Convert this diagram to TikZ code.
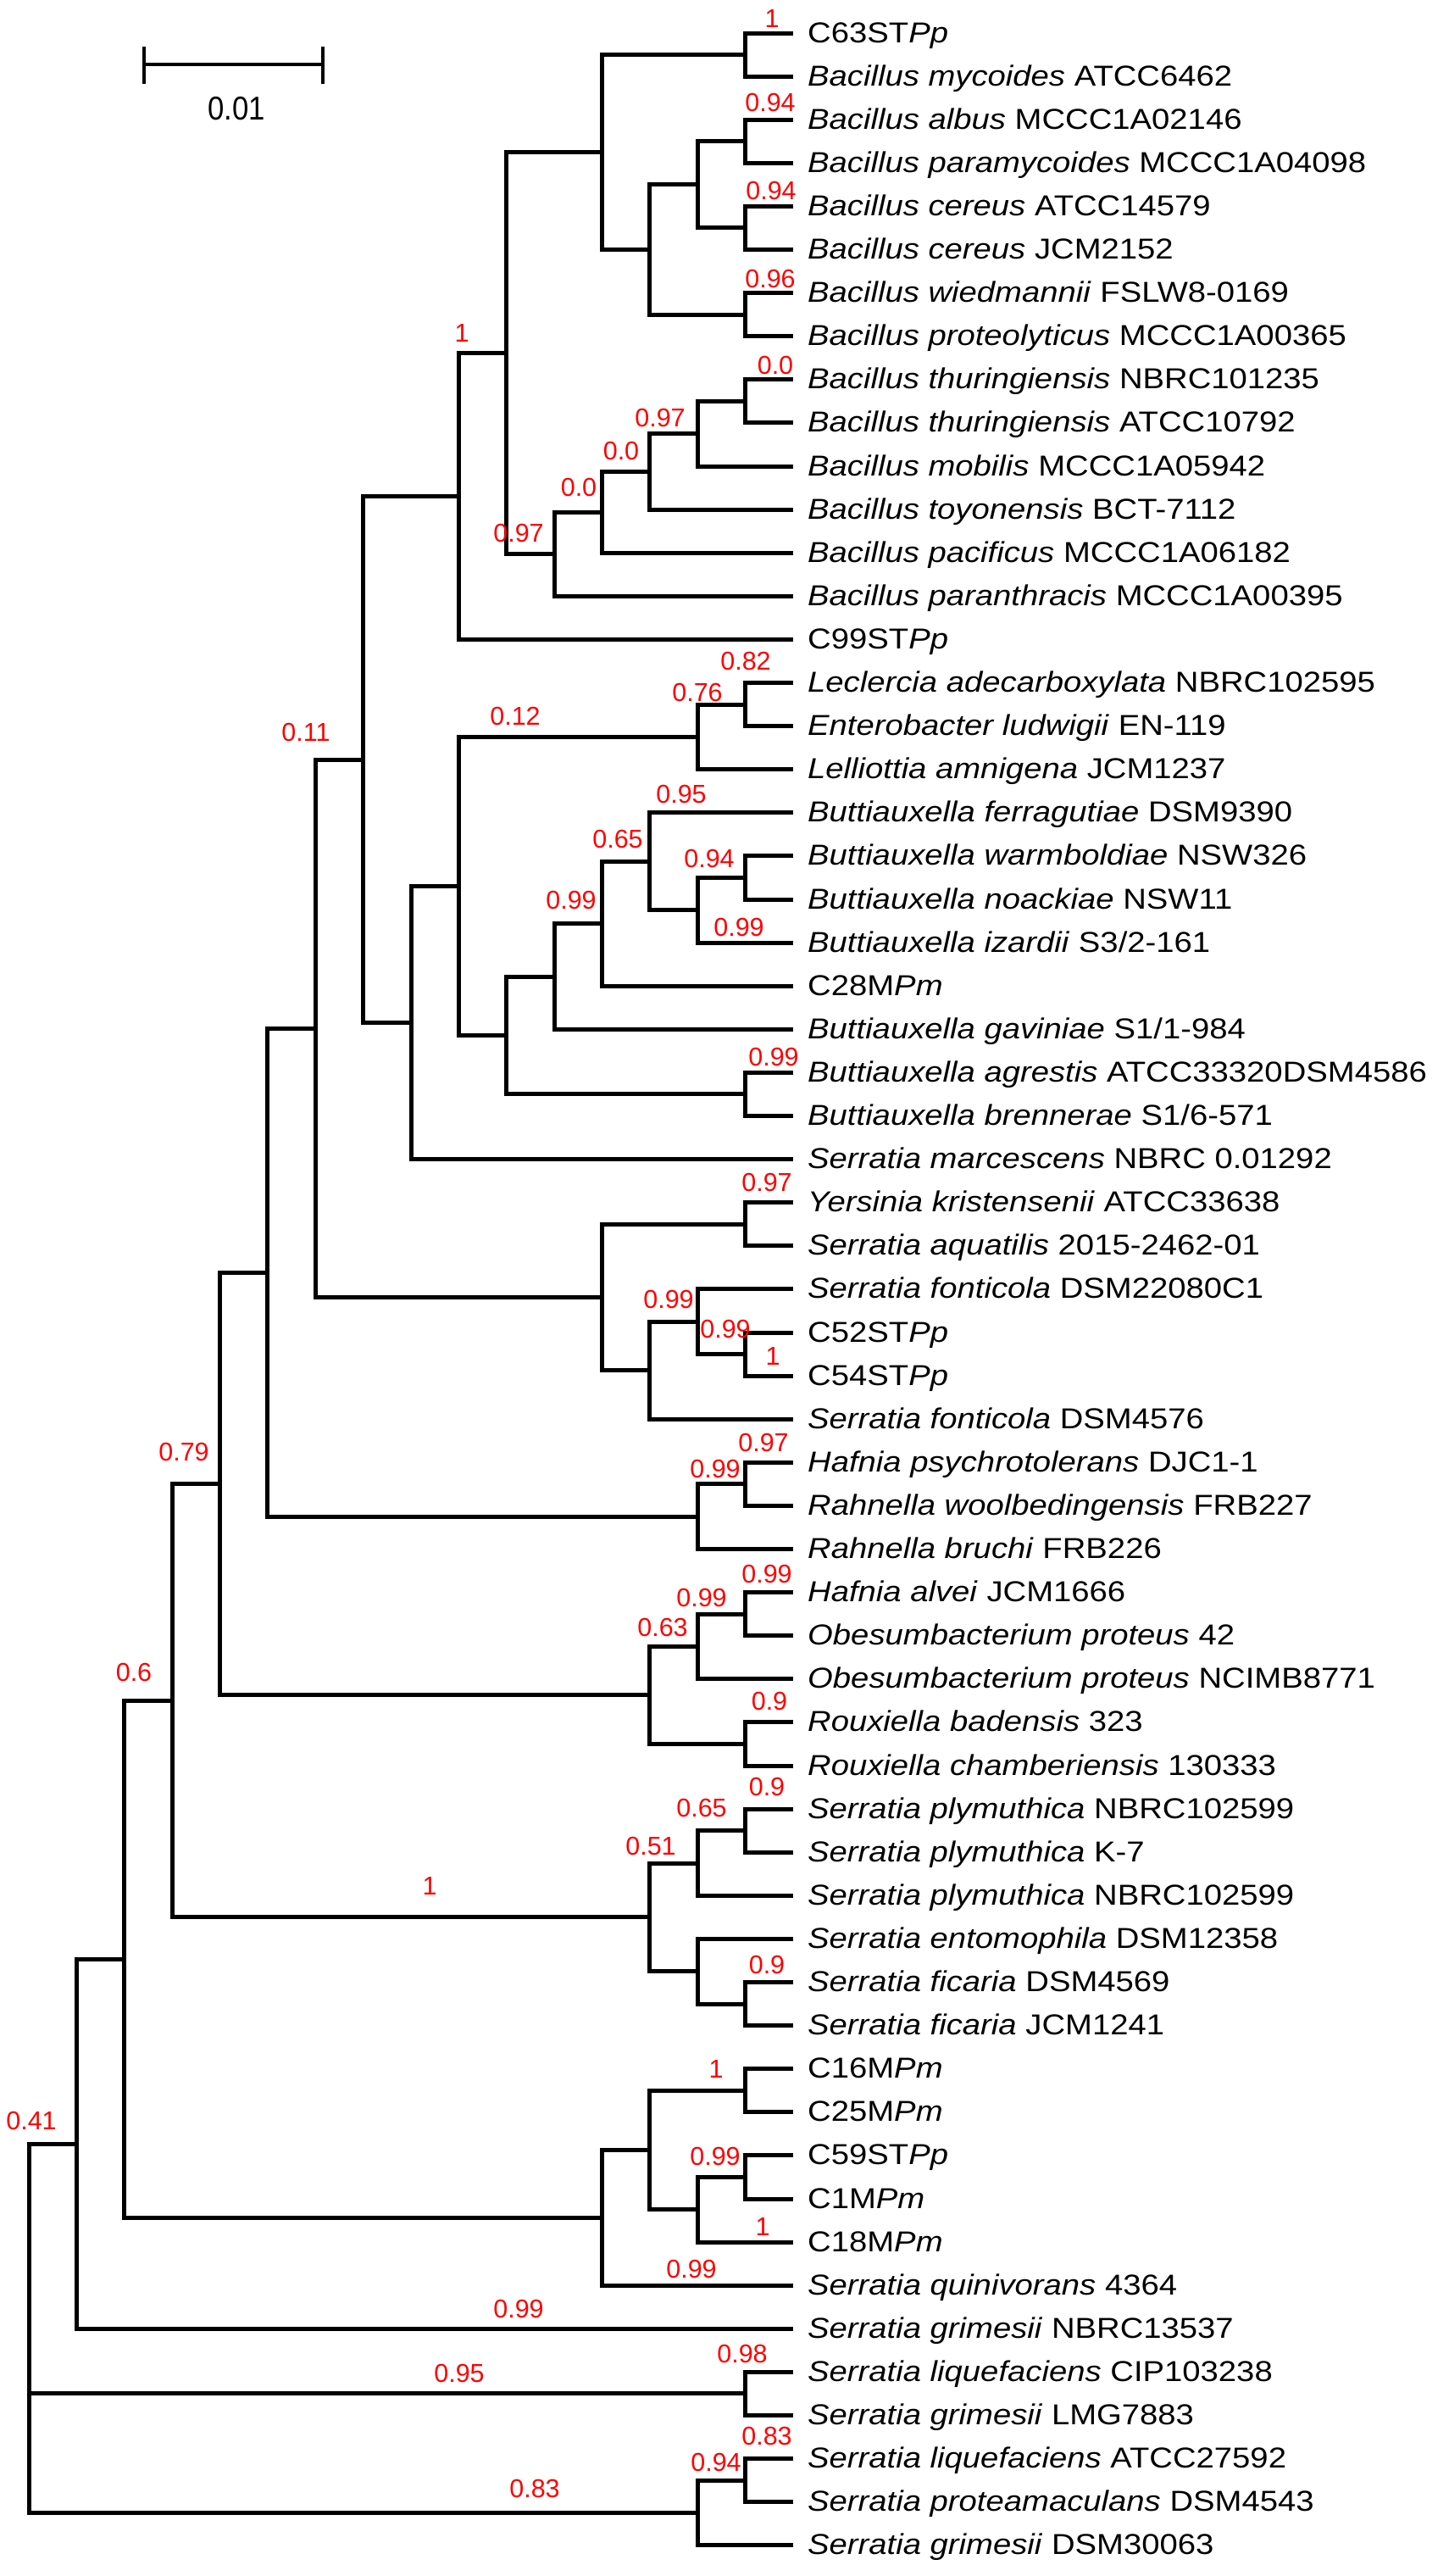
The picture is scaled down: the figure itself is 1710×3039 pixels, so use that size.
\documentclass[tikz,border=0pt]{standalone}
\usepackage{fontspec}
\setmainfont{Liberation Sans}
\newfontfamily\labfont[FakeStretch=1.125]{Liberation Sans}
\usetikzlibrary{calc}
\newcommand\inode[4]{%
  \coordinate (#1m) at ($(#3)!.5!(#4)$);
  \coordinate (#1) at (#2 |- #1m);
  \draw[br] (#1) |- (#3);
  \draw[br] (#1) |- (#4);}
\begin{document}
\begin{tikzpicture}[x=1pt,y=-1pt,
  br/.style={line width=5pt, line cap=butt, line join=miter},
  lab/.style={anchor=base west, inner sep=0pt, font=\labfont\fontsize{34}{38}\selectfont},
  bs/.style={text=red, inner sep=0pt, font=\fontsize{30.5}{32}\selectfont},
  sbar/.style={line width=4pt}]
\useasboundingbox (0,0) rectangle (1710,3039);
\fill[white] (0,0) rectangle (1710,3039);
% levels and leaves
\foreach \k in {0,...,16} \coordinate (X\k) at ({34+56.375*\k},0);
\foreach \i in {1,...,59} \coordinate (L\i) at (936,{39+51.1*(\i-1)});
% Bacillus clade
\inode{a1}{X15}{L1}{L2}
\inode{a2}{X15}{L3}{L4}
\inode{a3}{X15}{L5}{L6}
\inode{a4}{X14}{a2}{a3}
\inode{a5}{X15}{L7}{L8}
\inode{a6}{X13}{a4}{a5}
\inode{a7}{X12}{a1}{a6}
\inode{b1}{X15}{L9}{L10}
\inode{b2}{X14}{b1}{L11}
\inode{b3}{X13}{b2}{L12}
\inode{b4}{X12}{b3}{L13}
\inode{b5}{X11}{b4}{L14}
\inode{a8}{X10}{a7}{b5}
\inode{a9}{X9}{a8}{L15}
% Enterobacteriaceae
\inode{c1}{X15}{L16}{L17}
\inode{c2}{X14}{c1}{L18}
\inode{d1}{X15}{L20}{L21}
\inode{d2}{X14}{d1}{L22}
\inode{d3}{X13}{L19}{d2}
\inode{d4}{X12}{d3}{L23}
\inode{d5}{X11}{d4}{L24}
\inode{d6}{X15}{L25}{L26}
\inode{d7}{X10}{d5}{d6}
\inode{c3}{X9}{c2}{d7}
\inode{c4}{X8}{c3}{L27}
\inode{a10}{X7}{a9}{c4}
\inode{e1}{X15}{L28}{L29}
\inode{e2}{X15}{L31}{L32}
\inode{e3}{X14}{L30}{e2}
\inode{e4}{X13}{e3}{L33}
\inode{e5}{X12}{e1}{e4}
\inode{a11}{X6}{a10}{e5}
\inode{f1}{X15}{L34}{L35}
\inode{f2}{X14}{f1}{L36}
\inode{a12}{X5}{a11}{f2}
\inode{g1}{X15}{L37}{L38}
\inode{g2}{X14}{g1}{L39}
\inode{g3}{X15}{L40}{L41}
\inode{g4}{X13}{g2}{g3}
\inode{a13}{X4}{a12}{g4}
\inode{h1}{X15}{L42}{L43}
\inode{h2}{X14}{h1}{L44}
\inode{h3}{X15}{L46}{L47}
\inode{h4}{X14}{L45}{h3}
\inode{h5}{X13}{h2}{h4}
\inode{a14}{X3}{a13}{h5}
\inode{i1}{X15}{L48}{L49}
\inode{i2}{X15}{L50}{L51}
\inode{i3}{X14}{i2}{L52}
\inode{i4}{X13}{i1}{i3}
\inode{i5}{X12}{i4}{L53}
\inode{a15}{X2}{a14}{i5}
\inode{a16}{X1}{a15}{L54}
\inode{j1}{X15}{L55}{L56}
\inode{k1}{X15}{L57}{L58}
\inode{k2}{X14}{k1}{L59}
\coordinate (root) at (X0 |- j1);
\draw[br] (root) |- (a16);
\draw[br] (root) |- (j1);
\draw[br] (root) |- (k2);
% scale bar
\coordinate (sb1) at (170,76);
\coordinate (sb2) at (381,76);
\draw[sbar] (sb1) -- (sb2);
\draw[sbar] ($(sb1)+(0,-21)$) -- ($(sb1)+(0,23)$);
\draw[sbar] ($(sb2)+(0,-21)$) -- ($(sb2)+(0,23)$);
\node[inner sep=0pt, font=\fontsize{39}{40}\selectfont] (sbl) at (279,128) {\scalebox{0.89}[1]{0.01}};
% leaf labels
\node[lab] (t1) at ($(L1)+(17,11)$) {C63ST\textit{Pp}};
\node[lab] (t2) at ($(L2)+(17,11)$) {\textit{Bacillus mycoides} ATCC6462};
\node[lab] (t3) at ($(L3)+(17,11)$) {\textit{Bacillus albus} MCCC1A02146};
\node[lab] (t4) at ($(L4)+(17,11)$) {\textit{Bacillus paramycoides} MCCC1A04098};
\node[lab] (t5) at ($(L5)+(17,11)$) {\textit{Bacillus cereus} ATCC14579};
\node[lab] (t6) at ($(L6)+(17,11)$) {\textit{Bacillus cereus} JCM2152};
\node[lab] (t7) at ($(L7)+(17,11)$) {\textit{Bacillus wiedmannii} FSLW8-0169};
\node[lab] (t8) at ($(L8)+(17,11)$) {\textit{Bacillus proteolyticus} MCCC1A00365};
\node[lab] (t9) at ($(L9)+(17,11)$) {\textit{Bacillus thuringiensis} NBRC101235};
\node[lab] (t10) at ($(L10)+(17,11)$) {\textit{Bacillus thuringiensis} ATCC10792};
\node[lab] (t11) at ($(L11)+(17,11)$) {\textit{Bacillus mobilis} MCCC1A05942};
\node[lab] (t12) at ($(L12)+(17,11)$) {\textit{Bacillus toyonensis} BCT-7112};
\node[lab] (t13) at ($(L13)+(17,11)$) {\textit{Bacillus pacificus} MCCC1A06182};
\node[lab] (t14) at ($(L14)+(17,11)$) {\textit{Bacillus paranthracis} MCCC1A00395};
\node[lab] (t15) at ($(L15)+(17,11)$) {C99ST\textit{Pp}};
\node[lab] (t16) at ($(L16)+(17,11)$) {\textit{Leclercia adecarboxylata} NBRC102595};
\node[lab] (t17) at ($(L17)+(17,11)$) {\textit{Enterobacter ludwigii} EN-119};
\node[lab] (t18) at ($(L18)+(17,11)$) {\textit{Lelliottia amnigena} JCM1237};
\node[lab] (t19) at ($(L19)+(17,11)$) {\textit{Buttiauxella ferragutiae} DSM9390};
\node[lab] (t20) at ($(L20)+(17,11)$) {\textit{Buttiauxella warmboldiae} NSW326};
\node[lab] (t21) at ($(L21)+(17,11)$) {\textit{Buttiauxella noackiae} NSW11};
\node[lab] (t22) at ($(L22)+(17,11)$) {\textit{Buttiauxella izardii} S3/2-161};
\node[lab] (t23) at ($(L23)+(17,11)$) {C28M\textit{Pm}};
\node[lab] (t24) at ($(L24)+(17,11)$) {\textit{Buttiauxella gaviniae} S1/1-984};
\node[lab] (t25) at ($(L25)+(17,11)$) {\textit{Buttiauxella agrestis} ATCC33320DSM4586};
\node[lab] (t26) at ($(L26)+(17,11)$) {\textit{Buttiauxella brennerae} S1/6-571};
\node[lab] (t27) at ($(L27)+(17,11)$) {\textit{Serratia marcescens} NBRC 0.01292};
\node[lab] (t28) at ($(L28)+(17,11)$) {\textit{Yersinia kristensenii} ATCC33638};
\node[lab] (t29) at ($(L29)+(17,11)$) {\textit{Serratia aquatilis} 2015-2462-01};
\node[lab] (t30) at ($(L30)+(17,11)$) {\textit{Serratia fonticola} DSM22080C1};
\node[lab] (t31) at ($(L31)+(17,11)$) {C52ST\textit{Pp}};
\node[lab] (t32) at ($(L32)+(17,11)$) {C54ST\textit{Pp}};
\node[lab] (t33) at ($(L33)+(17,11)$) {\textit{Serratia fonticola} DSM4576};
\node[lab] (t34) at ($(L34)+(17,11)$) {\textit{Hafnia psychrotolerans} DJC1-1};
\node[lab] (t35) at ($(L35)+(17,11)$) {\textit{Rahnella woolbedingensis} FRB227};
\node[lab] (t36) at ($(L36)+(17,11)$) {\textit{Rahnella bruchi} FRB226};
\node[lab] (t37) at ($(L37)+(17,11)$) {\textit{Hafnia alvei} JCM1666};
\node[lab] (t38) at ($(L38)+(17,11)$) {\textit{Obesumbacterium proteus} 42};
\node[lab] (t39) at ($(L39)+(17,11)$) {\textit{Obesumbacterium proteus} NCIMB8771};
\node[lab] (t40) at ($(L40)+(17,11)$) {\textit{Rouxiella badensis} 323};
\node[lab] (t41) at ($(L41)+(17,11)$) {\textit{Rouxiella chamberiensis} 130333};
\node[lab] (t42) at ($(L42)+(17,11)$) {\textit{Serratia plymuthica} NBRC102599};
\node[lab] (t43) at ($(L43)+(17,11)$) {\textit{Serratia plymuthica} K-7};
\node[lab] (t44) at ($(L44)+(17,11)$) {\textit{Serratia plymuthica} NBRC102599};
\node[lab] (t45) at ($(L45)+(17,11)$) {\textit{Serratia entomophila} DSM12358};
\node[lab] (t46) at ($(L46)+(17,11)$) {\textit{Serratia ficaria} DSM4569};
\node[lab] (t47) at ($(L47)+(17,11)$) {\textit{Serratia ficaria} JCM1241};
\node[lab] (t48) at ($(L48)+(17,11)$) {C16M\textit{Pm}};
\node[lab] (t49) at ($(L49)+(17,11)$) {C25M\textit{Pm}};
\node[lab] (t50) at ($(L50)+(17,11)$) {C59ST\textit{Pp}};
\node[lab] (t51) at ($(L51)+(17,11)$) {C1M\textit{Pm}};
\node[lab] (t52) at ($(L52)+(17,11)$) {C18M\textit{Pm}};
\node[lab] (t53) at ($(L53)+(17,11)$) {\textit{Serratia quinivorans} 4364};
\node[lab] (t54) at ($(L54)+(17,11)$) {\textit{Serratia grimesii} NBRC13537};
\node[lab] (t55) at ($(L55)+(17,11)$) {\textit{Serratia liquefaciens} CIP103238};
\node[lab] (t56) at ($(L56)+(17,11)$) {\textit{Serratia grimesii} LMG7883};
\node[lab] (t57) at ($(L57)+(17,11)$) {\textit{Serratia liquefaciens} ATCC27592};
\node[lab] (t58) at ($(L58)+(17,11)$) {\textit{Serratia proteamaculans} DSM4543};
\node[lab] (t59) at ($(L59)+(17,11)$) {\textit{Serratia grimesii} DSM30063};
% support values
\node[bs] (s1) at (911,22) {1};
\node[bs] (s2) at (909,121) {0.94};
\node[bs] (s3) at (910,225) {0.94};
\node[bs] (s4) at (909,329) {0.96};
\node[bs] (s5) at (545,393) {1};
\node[bs] (s6) at (915,431) {0.0};
\node[bs] (s7) at (779,493) {0.97};
\node[bs] (s8) at (733,532) {0.0};
\node[bs] (s9) at (683,575) {0.0};
\node[bs] (s10) at (612,629) {0.97};
\node[bs] (s11) at (880,780) {0.82};
\node[bs] (s12) at (823,817) {0.76};
\node[bs] (s13) at (608,845) {0.12};
\node[bs] (s14) at (361,864) {0.11};
\node[bs] (s15) at (804,937) {0.95};
\node[bs] (s16) at (729,990) {0.65};
\node[bs] (s17) at (837,1013) {0.94};
\node[bs] (s18) at (674,1062) {0.99};
\node[bs] (s19) at (872,1094) {0.99};
\node[bs] (s20) at (913,1247) {0.99};
\node[bs] (s21) at (905,1395) {0.97};
\node[bs] (s22) at (789,1533) {0.99};
\node[bs] (s23) at (856,1568) {0.99};
\node[bs] (s24) at (912,1600) {1};
\node[bs] (s25) at (901,1702) {0.97};
\node[bs] (s26) at (844,1733) {0.99};
\node[bs] (s27) at (217,1713) {0.79};
\node[bs] (s28) at (905,1857) {0.99};
\node[bs] (s29) at (828,1885) {0.99};
\node[bs] (s30) at (782,1920) {0.63};
\node[bs] (s31) at (158,1973) {0.6};
\node[bs] (s32) at (908,2007) {0.9};
\node[bs] (s33) at (905,2108) {0.9};
\node[bs] (s34) at (828,2133) {0.65};
\node[bs] (s35) at (768,2178) {0.51};
\node[bs] (s36) at (507,2225) {1};
\node[bs] (s37) at (905,2318) {0.9};
\node[bs] (s38) at (845,2441) {1};
\node[bs] (s39) at (37,2502) {0.41};
\node[bs] (s40) at (844,2544) {0.99};
\node[bs] (s41) at (900,2627) {1};
\node[bs] (s42) at (816,2677) {0.99};
\node[bs] (s43) at (612,2724) {0.99};
\node[bs] (s44) at (876,2777) {0.98};
\node[bs] (s45) at (542,2800) {0.95};
\node[bs] (s46) at (905,2874) {0.83};
\node[bs] (s47) at (845,2905) {0.94};
\node[bs] (s48) at (631,2936) {0.83};
\end{tikzpicture}
\end{document}
